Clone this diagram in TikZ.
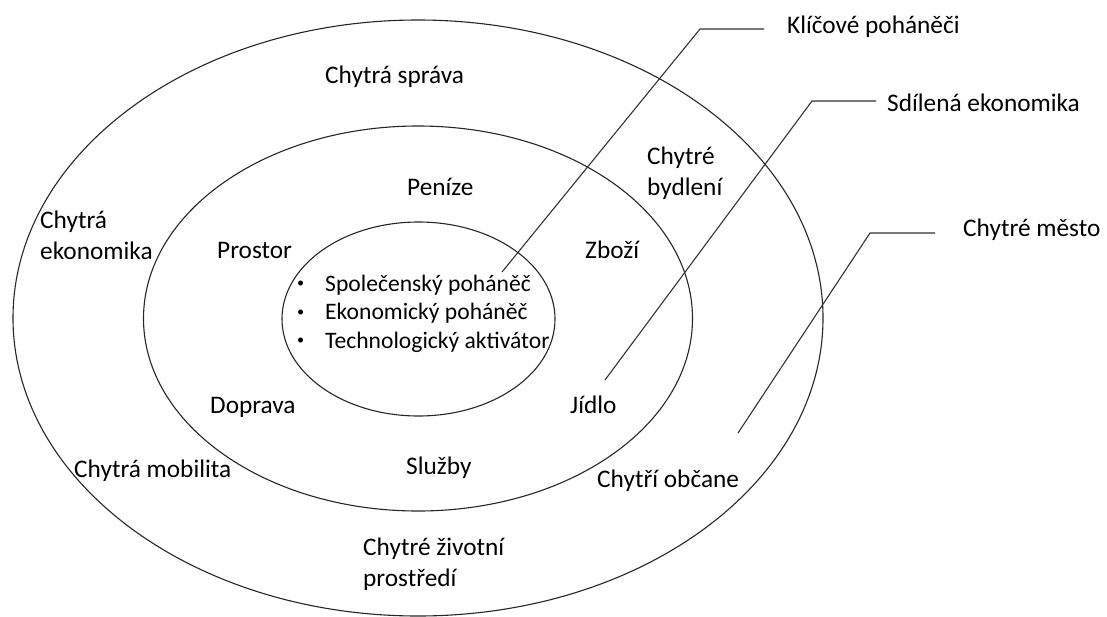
\documentclass[tikz,border=0pt]{standalone}
\usepackage{fontspec}
\setmainfont{Carlito}
\newcommand{\smallbul}{\makebox[28pt][l]{\raisebox{3.5pt}{\scalebox{0.6}{•}}}}
\begin{document}
\begin{tikzpicture}[x=1pt,y=-1pt,
  ring/.style={draw=black!85,line width=1.1pt},
  leader/.style={draw=black!80,line width=1.1pt},
  lbl/.style={inner sep=0pt,anchor=base west,font=\fontsize{25.3}{31}\selectfont},
  mlbl/.style={inner sep=0pt,anchor=base west,align=left,font=\fontsize{25.3}{31}\selectfont},
  blist/.style={inner sep=0pt,anchor=base west,align=left,font=\fontsize{23.6}{28.3}\selectfont}]
\useasboundingbox (0,0) rectangle (1107,616);
% rings
\path[ring] (418,318) ellipse [x radius=405, y radius=298];
\path[ring] (418,318.5) ellipse [x radius=274.5, y radius=192.5];
\path[ring] (418.5,319) ellipse [x radius=136.5, y radius=97];
% outer ring labels (multi-line nodes: base = last line)
\node[lbl] (sprava) at (325,83) {Chytrá správa};
\node[mlbl] (ekon) at (40,259) {Chytrá\\ekonomika};
\node[mlbl] (bydl) at (647,195) {Chytré\\bydlení};
\node[lbl] (mobil) at (74,477) {Chytrá mobilita};
\node[lbl] (obcan) at (597,487) {Chytří občane};
\node[mlbl] (zivot) at (363,586) {Chytré životní\\prostředí};
% middle ring labels
\node[lbl] (penize) at (407,195) {Peníze};
\node[lbl] (prostor) at (217,258) {Prostor};
\node[lbl] (zbozi) at (585,258) {Zboží};
\node[lbl] (doprava) at (210,413) {Doprava};
\node[lbl] (jidlo) at (570,413) {Jídlo};
\node[lbl] (sluzby) at (406,474) {Služby};
% inner list
\node[blist] (drivers) at (297,348) {\smallbul Společenský poháněč\\
\smallbul Ekonomický poháněč\\
\smallbul Technologický aktivátor};
% callout labels
\node[lbl] (klic) at (787,33) {Klíčové poháněči};
\node[lbl] (sdil) at (887,111) {Sdílená ekonomika};
\node[lbl] (mesto) at (963,236) {Chytré město};
% leader lines
\coordinate (k0) at (502,272); \coordinate (k1) at (700,29); \coordinate (k2) at (764,29);
\coordinate (s0) at (605,380); \coordinate (s1) at (812,101); \coordinate (s2) at (876,101);
\coordinate (m0) at (738,433); \coordinate (m1) at (870,233); \coordinate (m2) at (935,233);
\draw[leader] (k0) -- (k1) -- (k2);
\draw[leader] (s0) -- (s1) -- (s2);
\draw[leader] (m0) -- (m1) -- (m2);
\end{tikzpicture}
\end{document}
